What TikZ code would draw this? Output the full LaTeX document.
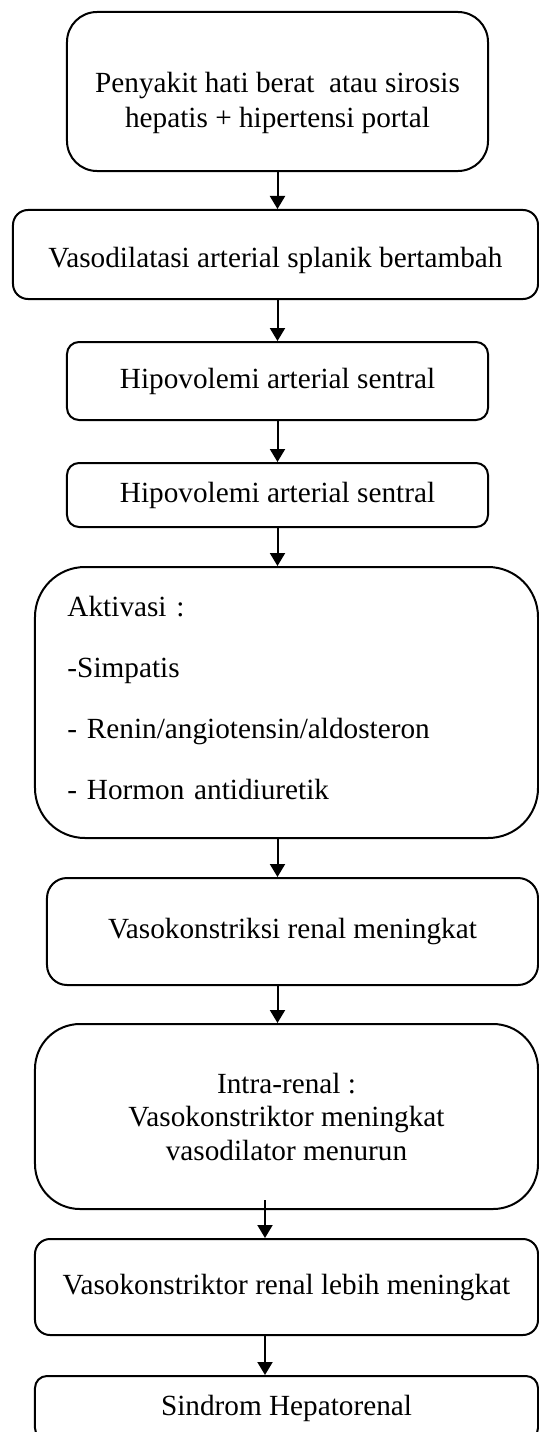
\documentclass[tikz,border=0pt]{standalone}
\usepackage{fontspec}
\setmainfont{Liberation Serif}
\usetikzlibrary{arrows.meta}

\begin{document}
\begin{tikzpicture}[x=0.4pt,y=-0.4pt]
\tikzset{
    stage/.style={draw, line width=0.8pt, rounded corners=#1, align=center,
        inner sep=0pt, font=\fontsize{11.7}{14}\selectfont},
    stage/.default=5pt,
    flow/.style={line width=0.8pt, -{Triangle[width=6pt,length=5.2pt]}}
}
\useasboundingbox (0,0) rectangle (539,1432);
% arrow axes
\coordinate (axis) at (277.5,0);
\coordinate (axisb) at (265,0);

\node[stage=12pt, minimum width=168.4pt, minimum height=63.6pt] (hati) at (277.5,91.5)
    {\rule{0pt}{17pt}Penyakit hati berat~ atau sirosis\\hepatis + hipertensi portal};
\node[stage=6pt, minimum width=210pt, minimum height=35.6pt] (vaso) at (275.5,254.5)
    {\rule{0pt}{12.8pt}Vasodilatasi arterial splanik bertambah};
\node[stage=4.8pt, minimum width=168.4pt, minimum height=31.2pt] (hipoa) at (277.5,381)
    {Hipovolemi arterial sentral};
\node[stage=4.8pt, minimum width=168.4pt, minimum height=25.6pt] (hipob) at (277.5,495)
    {Hipovolemi arterial sentral};
\node[stage=20pt, minimum width=201.2pt, minimum height=108.4pt, align=left,
    text width=175.2pt, font=\fontsize{11.7}{24.4}\selectfont] (aktivasi) at (286.5,702.5)
    {Aktivasi :\\-Simpatis\\- Renin/angiotensin/aldosteron\\- Hormon antidiuretik\rule[-4pt]{0pt}{4pt}};
\node[stage=8pt, minimum width=196.4pt, minimum height=42.8pt] (vkr) at (292.5,931.5)
    {Vasokonstriksi renal meningkat};
\node[stage=18pt, minimum width=201.2pt, minimum height=74pt,
    font=\fontsize{11.7}{13.4}\selectfont] (intra) at (286.5,1116.5)
    {Intra-renal :\\Vasokonstriktor meningkat\\vasodilator menurun};
\node[stage=6pt, minimum width=201.2pt, minimum height=38.4pt] (lebih) at (286.5,1287)
    {Vasokonstriktor renal lebih meningkat};
\node[stage=4.8pt, minimum width=201.2pt, minimum height=25.6pt] (hrs) at (286.5,1408)
    {Sindrom Hepatorenal};

\foreach \a/\b in {hati/vaso, vaso/hipoa, hipoa/hipob, hipob/aktivasi, aktivasi/vkr, vkr/intra}
    \draw[flow] (axis |- \a.south) -- (axis |- \b.north);
\draw[flow] ([yshift=4pt]axisb |- intra.south) -- (axisb |- lebih.north);
\draw[flow] (axisb |- lebih.south) -- (axisb |- hrs.north);
\end{tikzpicture}
\end{document}
